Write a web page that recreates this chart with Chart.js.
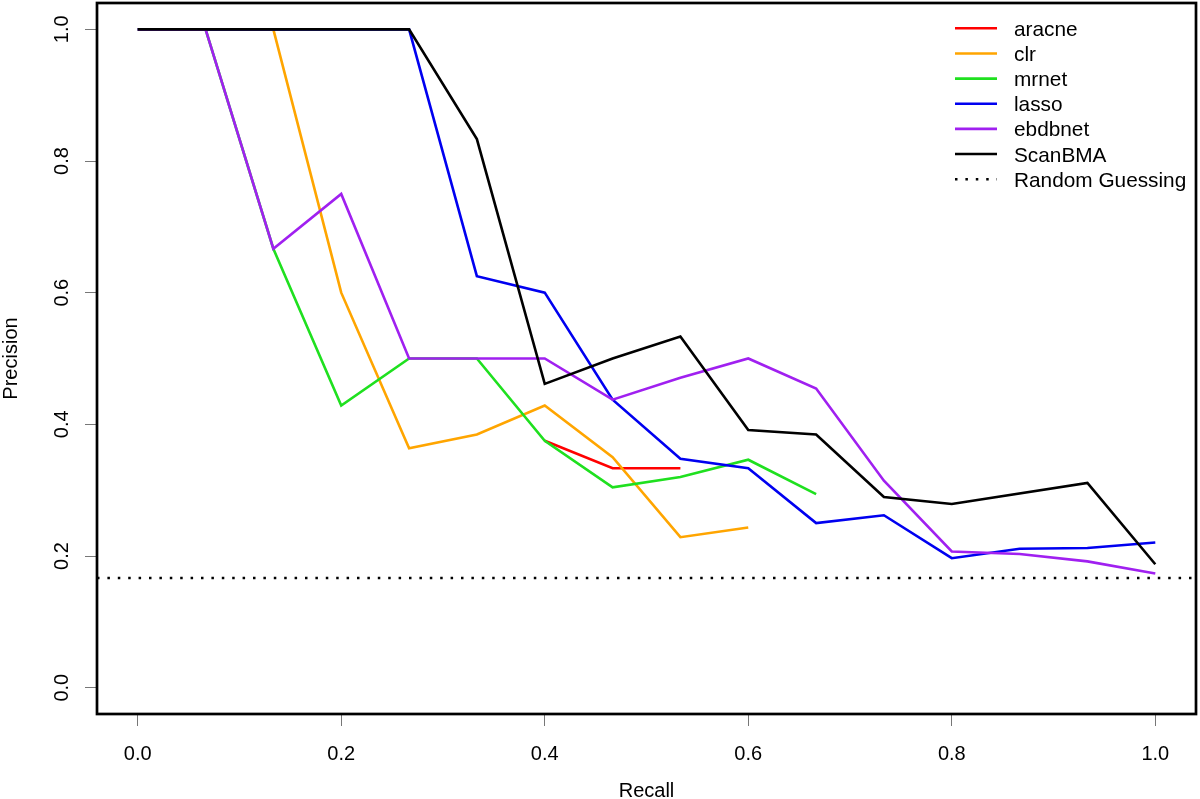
<!DOCTYPE html>
<html>
<head>
<meta charset="utf-8">
<script src="https://cdn.jsdelivr.net/npm/chart.js@4"></script>
<style>
  body { margin: 0; background: #fff; }
  #wrap { width: 1200px; height: 799px; }
</style>
</head>
<body>
<div id="wrap"><canvas id="prCanvas" width="1200" height="799"></canvas></div>
<script>
const FONT = '"Liberation Sans", Arial, Helvetica, sans-serif';

// values
const aracneRecall = [0.4, 0.4667, 0.5333];
const aracnePrecision = [0.375, 0.3333, 0.3333];

const clrRecall = [0, 0.1333, 0.2, 0.2667, 0.3333, 0.4, 0.4667, 0.5333, 0.6];
const clrPrecision = [1, 1, 0.6, 0.3636, 0.3846, 0.4286, 0.35, 0.2286, 0.2432];

const mrnetRecall = [0, 0.0667, 0.1333, 0.2, 0.2667, 0.3333, 0.4, 0.4667, 0.5333, 0.6, 0.6667];
const mrnetPrecision = [1, 1, 0.6667, 0.4286, 0.5, 0.5, 0.375, 0.3043, 0.32, 0.3462, 0.2941];

const lassoRecall = [0, 0.2667, 0.3333, 0.4, 0.4667, 0.5333, 0.6, 0.6667, 0.7333, 0.8, 0.8667, 0.9333, 1.0];
const lassoPrecision = [1, 1, 0.625, 0.6, 0.4375, 0.3478, 0.3333, 0.25, 0.2619, 0.1967, 0.211, 0.2121, 0.2206];

const ebdbnetRecall = [0, 0.0667, 0.1333, 0.2, 0.2667, 0.3333, 0.4, 0.4667, 0.5333, 0.6, 0.6667, 0.7333, 0.8, 0.8667, 0.9333, 1.0];
const ebdbnetPrecision = [1, 1, 0.6667, 0.75, 0.5, 0.5, 0.5, 0.4375, 0.4706, 0.5, 0.4545, 0.3143, 0.2069, 0.2031, 0.1918, 0.1735];

const scanbmaRecall = [0, 0.2667, 0.3333, 0.4, 0.4667, 0.5333, 0.6, 0.6667, 0.7333, 0.8, 0.9333, 1.0];
const scanbmaPrecision = [1, 1, 0.8333, 0.4615, 0.5, 0.5333, 0.3913, 0.3846, 0.2895, 0.2791, 0.3111, 0.1875];

const randomPrecision = 0.1667;

const seriesNames = ['aracne', 'clr', 'mrnet', 'lasso', 'ebdbnet', 'ScanBMA'];
const seriesColors = ['#ff0000', '#ffa500', '#1fe01f', '#0000f0', '#a020f0', '#000000'];

const tickValues = [0, 0.2, 0.4, 0.6, 0.8, 1.0];
const tickLabels = ['0.0', '0.2', '0.4', '0.6', '0.8', '1.0'];
const axisMin = -0.04, axisMax = 1.04;

const recalls = [aracneRecall, clrRecall, mrnetRecall, lassoRecall, ebdbnetRecall, scanbmaRecall];
const precisions = [aracnePrecision, clrPrecision, mrnetPrecision, lassoPrecision, ebdbnetPrecision, scanbmaPrecision];

const dots = [2.5, 7.9];

const datasets = seriesNames.map((name, i) => ({
  label: name,
  data: recalls[i].map((r, j) => ({ x: r, y: precisions[i][j] })),
  borderColor: seriesColors[i],
  borderWidth: 2.6,
  pointRadius: 0,
  tension: 0,
  order: seriesNames.length - i
}));
datasets.push({
  label: 'Random Guessing',
  data: [{ x: axisMin, y: randomPrecision }, { x: axisMax, y: randomPrecision }],
  borderColor: '#000',
  borderWidth: 2.5,
  borderDash: dots,
  borderCapStyle: 'butt',
  pointRadius: 0,
  order: 10
});

function fixedTicks(scale) {
  scale.ticks = tickValues.map(v => ({ value: v }));
}

const decor = {
  id: 'decor',
  afterDraw(chart) {
    const ctx = chart.ctx;
    const a = chart.chartArea;
    const xs = chart.scales.x, ys = chart.scales.y;
    ctx.save();
    // box
    ctx.strokeStyle = '#000';
    ctx.lineWidth = 2.7;
    ctx.strokeRect(a.left, a.top, a.right - a.left, a.bottom - a.top);

    ctx.fillStyle = '#000';
    ctx.font = '20px ' + FONT;
    ctx.textAlign = 'center';
    ctx.textBaseline = 'alphabetic';
    tickValues.forEach((v, i) => {
      ctx.fillText(tickLabels[i], xs.getPixelForValue(v), 760);
      ctx.save();
      ctx.translate(68, ys.getPixelForValue(v));
      ctx.rotate(-Math.PI / 2);
      ctx.fillText(tickLabels[i], 0, 0);
      ctx.restore();
    });

    ctx.fillText('Recall', (a.left + a.right) / 2, 797);
    ctx.save();
    ctx.translate(17, (a.top + a.bottom) / 2);
    ctx.rotate(-Math.PI / 2);
    ctx.fillText('Precision', 0, 0);
    ctx.restore();

    // legend
    ctx.font = '20.8px ' + FONT;
    ctx.textAlign = 'left';
    chart.data.datasets.forEach((ds, i) => {
      const y = 28.3 + i * 25.15;
      ctx.beginPath();
      ctx.strokeStyle = ds.borderColor;
      ctx.lineWidth = ds.borderWidth;
      ctx.lineCap = 'butt';
      ctx.setLineDash(ds.borderDash || []);
      ctx.moveTo(955, y);
      ctx.lineTo(997, y);
      ctx.stroke();
      ctx.setLineDash([]);
      ctx.fillText(ds.label, 1014, y + 7.5);
    });
    ctx.restore();
  }
};

new Chart(document.getElementById('prCanvas'), {
  type: 'line',
  data: { datasets: datasets },
  plugins: [decor],
  options: {
    responsive: false,
    animation: false,
    devicePixelRatio: 1,
    layout: { padding: { top: 3, right: 4, left: 0, bottom: 0 } },
    plugins: { legend: { display: false }, tooltip: { enabled: false } },
    scales: {
      x: {
        type: 'linear',
        min: axisMin,
        max: axisMax,
        afterBuildTicks: fixedTicks,
        afterFit(scale) { scale.height = 85; },
        ticks: { display: false },
        border: { display: false },
        grid: { drawOnChartArea: false, drawTicks: true, tickLength: 12, color: '#777', lineWidth: 1 }
      },
      y: {
        type: 'linear',
        min: axisMin,
        max: axisMax,
        afterBuildTicks: fixedTicks,
        afterFit(scale) { scale.width = 97; },
        ticks: { display: false },
        border: { display: false },
        grid: { drawOnChartArea: false, drawTicks: true, tickLength: 12, color: '#777', lineWidth: 1 }
      }
    }
  }
});
</script>
</body>
</html>
